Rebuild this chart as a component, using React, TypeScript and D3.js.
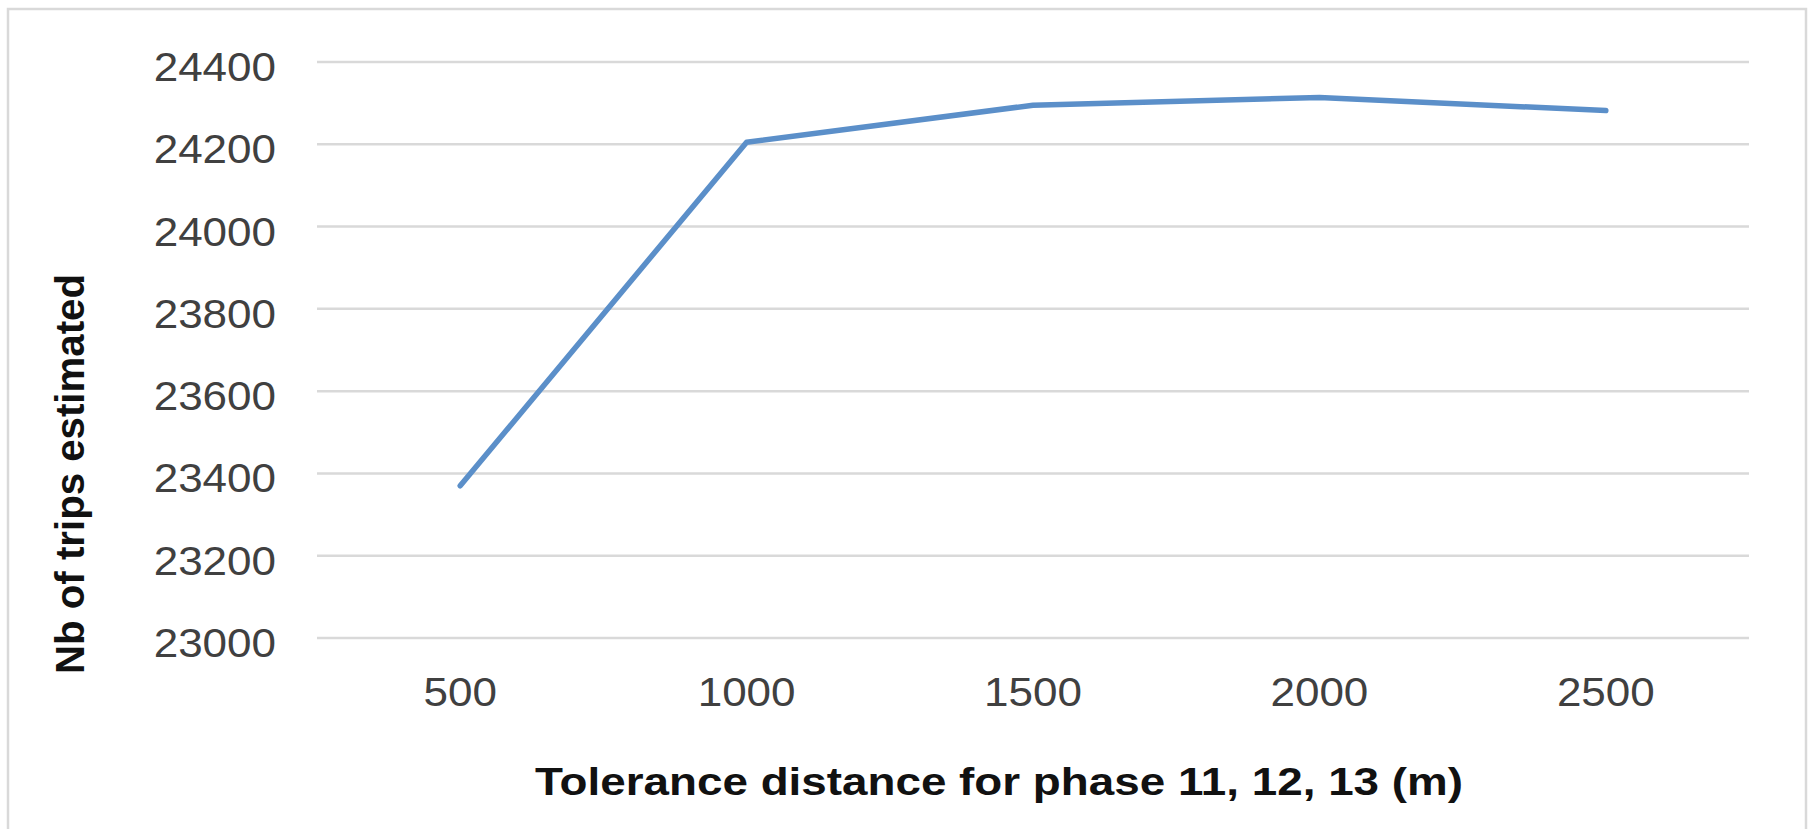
import React from "react";
import * as d3 from "d3";

const categories: string[] = ["500", "1000", "1500", "2000", "2500"];
const tripValues: number[] = [23370, 24205, 24295, 24314, 24282];
const yTicks: number[] = [23000, 23200, 23400, 23600, 23800, 24000, 24200, 24400];
const yTitle = "Nb of trips estimated";
const xTitle = "Tolerance distance for phase 11, 12, 13 (m)";

const W = 1811;
const H = 829;
const plotLeft = 317;
const plotRight = 1749;
const plotTop = 62;
const plotBottom = 638;

export default function App() {
  const x = d3.scaleBand<string>().domain(categories).range([plotLeft, plotRight]);
  const y = d3.scaleLinear().domain([23000, 24400]).range([plotBottom, plotTop]);
  const cx = (c: string) => (x(c) as number) + x.bandwidth() / 2;
  const line = d3
    .line<number>()
    .x((_, i) => cx(categories[i]))
    .y((v) => y(v));
  const font = "'Liberation Sans', Arial, sans-serif";

  return (
    <svg
      width={W}
      height={H}
      style={{ position: "absolute", left: 0, top: 0, background: "#fff" }}
    >
      <rect x={8} y={9} width={1798} height={840} fill="#fff" stroke="#d9d9d9" strokeWidth={2.5} />
      {yTicks.map((t) => (
        <g key={t}>
          <line x1={plotLeft} x2={plotRight} y1={y(t)} y2={y(t)} stroke="#d9d9d9" strokeWidth={2.5} />
          <text
            transform={`translate(276,${y(t) + 19}) scale(1.1,1)`}
            textAnchor="end"
            fontFamily={font}
            fontSize={40}
            fill="#404040"
          >
            {t}
          </text>
        </g>
      ))}
      {categories.map((c) => (
        <text
          key={c}
          transform={`translate(${cx(c)},706) scale(1.1,1)`}
          textAnchor="middle"
          fontFamily={font}
          fontSize={40}
          fill="#404040"
        >
          {c}
        </text>
      ))}
      <path
        d={line(tripValues) || ""}
        fill="none"
        stroke="#5b8fc9"
        strokeWidth={5.5}
        strokeLinejoin="round"
        strokeLinecap="round"
      />
      <text
        x={999}
        y={795}
        textAnchor="middle"
        fontFamily={font}
        fontWeight="bold"
        fontSize={39}
        fill="#111"
        textLength={928}
        lengthAdjust="spacingAndGlyphs"
      >
        {xTitle}
      </text>
      <text
        transform="translate(84,474) rotate(-90)"
        textAnchor="middle"
        fontFamily={font}
        fontWeight="bold"
        fontSize={41}
        fill="#111"
        textLength={400}
        lengthAdjust="spacingAndGlyphs"
      >
        {yTitle}
      </text>
    </svg>
  );
}
